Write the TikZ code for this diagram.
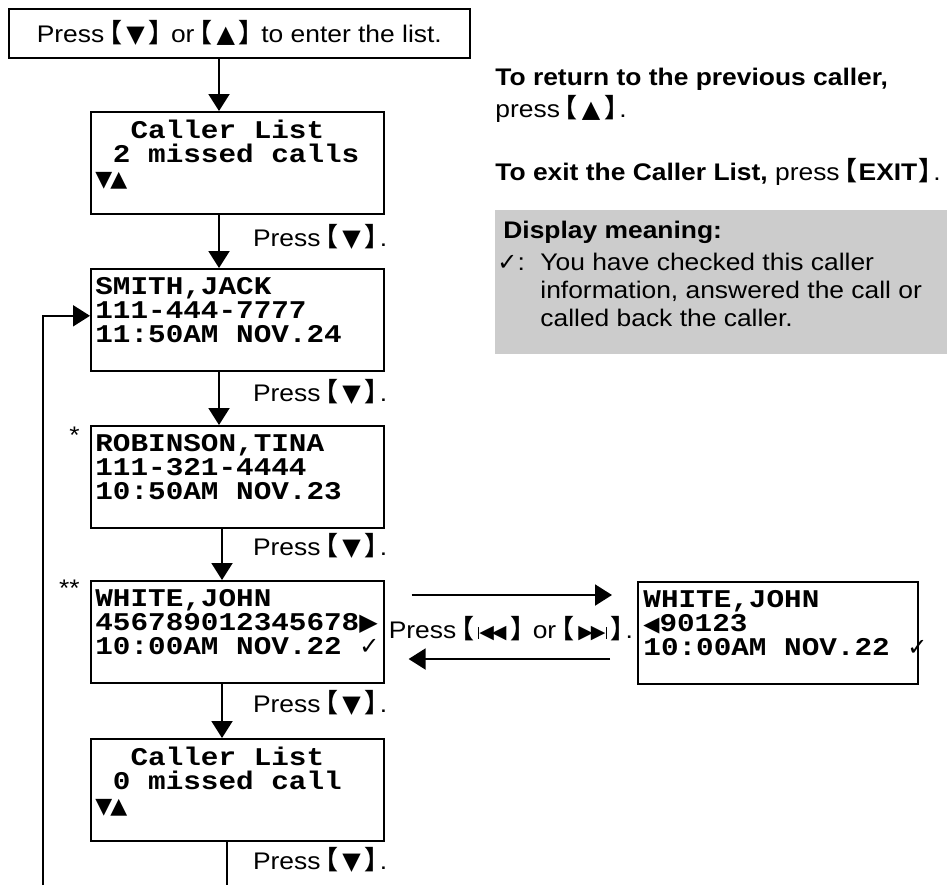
\documentclass[tikz,border=0pt]{standalone}
\usepackage{fontspec}
\setmainfont{Liberation Sans}[FakeStretch=1.1]
\newfontfamily\lcdfont{Liberation Mono}[FakeStretch=1.15]
\newfontfamily\symfont{DejaVu Sans}
\newfontfamily\cjkfont{Noto Sans CJK JP Bold}
\usetikzlibrary{arrows.meta, calc, positioning}

\newcommand{\keyl}{{\cjkfont\fontsize{13}{13}\selectfont\kern-.5em\kern2.5pt 【}}
\newcommand{\keyr}{{\cjkfont\fontsize{13}{13}\selectfont 】\kern-.5em\kern1pt}}
\newcommand{\keycap}[2][2pt]{\keyl\kern#1#2\kern#1\keyr}
\newcommand{\kdown}{{\symfont\fontsize{12}{12}\selectfont ▼}}
\newcommand{\kup}{{\symfont\fontsize{12}{12}\selectfont ▲}}
\newcommand{\kback}{{\rule[0pt]{0.5pt}{6pt}\symfont\fontsize{9.5}{9.5}\selectfont ◀\kern-1pt◀}}
\newcommand{\kfwd}{{\symfont\fontsize{9.5}{9.5}\selectfont ▶\kern-1pt▶}\rule[0pt]{0.5pt}{6pt}}
\newcommand{\lcdud}{{\symfont\fontsize{11}{11}\selectfont ▼\kern-1pt▲}}
\newcommand{\lcdrt}{{\symfont\fontsize{12}{12}\selectfont ▶}}
\newcommand{\lcdlt}{{\symfont\fontsize{10.5}{10.5}\selectfont ◀}}
\newcommand{\chk}{{\symfont\mdseries\fontsize{12}{12}\selectfont ✓}}

\begin{document}
\begin{tikzpicture}[x=0.5pt, y=-0.5pt,
    box/.style={draw, line width=0.8pt, minimum width=146.5pt, minimum height=51pt,
      anchor=north west, inner sep=0pt},
    lcdtext/.style={anchor=north west, inner sep=0pt, align=left,
      font=\lcdfont\bfseries\fontsize{12.75}{12}\selectfont},
    note/.style={inner sep=0pt, font=\fontsize{12}{16}\selectfont},
    flow/.style={line width=1pt, -{Triangle[width=10.5pt,length=8.5pt]}}]
  \useasboundingbox (0,0) rectangle (947,885);

  \node[draw, line width=0.8pt, minimum width=230.5pt, minimum height=24.5pt,
    anchor=north west, note] (enter) at (8,8)
    {Press\keycap{\kdown} or\keycap{\kup} to enter the list.};

  % displays
  \node[box] (list1) at (90,111) {};
  \node[box] (smith) at (90,268) {};
  \node[box] (robinson) at (90,425) {};
  \node[box] (white) at (90,580) {};
  \node[box] (list0) at (90,738) {};
  \node[box, minimum width=140pt] (whiteR) at (637,581) {};

  \node[lcdtext] (list1txt) at ($(list1.north west)+(5,9)$)
    {~~Caller List\\~2 missed calls\\\lcdud};
  \node[lcdtext] (smithtxt) at ($(smith.north west)+(5,9)$)
    {SMITH,JACK\\111-444-7777\\11:50AM NOV.24};
  \node[lcdtext] (robinsontxt) at ($(robinson.north west)+(5,9)$)
    {ROBINSON,TINA\\111-321-4444\\10:50AM NOV.23};
  \node[lcdtext] (whitetxt) at ($(white.north west)+(5,9)$)
    {WHITE,JOHN\\456789012345678\lcdrt\\10:00AM NOV.22~\chk};
  \node[lcdtext] (list0txt) at ($(list0.north west)+(5,9)$)
    {~~Caller List\\~0 missed call\\\lcdud};
  \node[lcdtext] (whiteRtxt) at ($(whiteR.north west)+(6,9)$)
    {WHITE,JOHN\\\lcdlt90123\\10:00AM NOV.22~\chk};

  \node[note, anchor=north east] (star1) at ($(robinson.north west)+(-10,2)$) {*};
  \node[note, anchor=north east] (star2) at ($(white.north west)+(-10,0)$) {**};

  % down the list
  \draw[flow] ($(enter.south west)+(211,0)$) -- ($(list1.north west)+(129,0)$);
  \draw[flow] ($(list1.south west)+(129,0)$) -- ($(smith.north west)+(129,0)$)
    node[midway, note, anchor=west, xshift=16.5pt, yshift=2pt] (press1) {Press\keycap{\kdown}.};
  \draw[flow] ($(smith.south west)+(129,0)$) -- ($(robinson.north west)+(129,0)$)
    node[midway, note, anchor=west, xshift=16.5pt, yshift=3pt] (press2) {Press\keycap{\kdown}.};
  \draw[flow] ($(robinson.south west)+(132,0)$) -- ($(white.north west)+(132,0)$)
    node[midway, note, anchor=west, xshift=15pt, yshift=4pt] (press3) {Press\keycap{\kdown}.};
  \draw[flow] ($(white.south west)+(132,0)$) -- ($(list0.north west)+(132,0)$)
    node[midway, note, anchor=west, xshift=15pt, yshift=4pt] (press4) {Press\keycap{\kdown}.};
  \coordinate (list0end) at (227,885);
  \draw[line width=1pt] ($(list0.south west)+(137,0)$) -- (list0end)
    node[midway, note, anchor=west, xshift=12.5pt, yshift=1.5pt] (press5) {Press\keycap{\kdown}.};

  % back to the top
  \coordinate (loopend) at (43,885);
  \draw[flow] (loopend) |- ($(smith.west)+(0,-4)$);

  % scroll the number
  \draw[flow] ($(white.north east)+(27,15)$) -- ($(whiteR.north west)+(-25,14)$);
  \draw[flow] ($(whiteR.north west)+(-27,78)$) -- ($(white.north east)+(24,79)$);
  \node[note] (seek) at ($(white.east)!0.5!(whiteR.west)+(0,-3.5)$)
    {Press\keycap{\kback} or\keycap{\kfwd}.};

  % notes
  \node[note, anchor=north west, align=left] (prevnote) at (495,68)
    {\textbf{To return to the previous caller,}\\press\keycap{\kup}.};
  \node[note, anchor=base west] (exitnote) at (495,180)
    {\textbf{To exit the Caller List,} press\keycap[0.5pt]{\textbf{EXIT}}.};
  \node[fill=gray!40, minimum width=226pt, minimum height=72pt, anchor=north west,
    inner sep=0pt] (meaning) at (495,210) {};
  \node[note, anchor=base west] (meaninghead) at (503,238) {\textbf{Display meaning:}};
  \node[note, anchor=base west] (chkmark) at (497,270) {\chk:};
  \node[note, anchor=north west, align=left, font=\fontsize{12}{14}\selectfont] (chkdesc) at (540,253)
    {You have checked this caller\\information, answered the call or\\called back the caller.};
\end{tikzpicture}
\end{document}
